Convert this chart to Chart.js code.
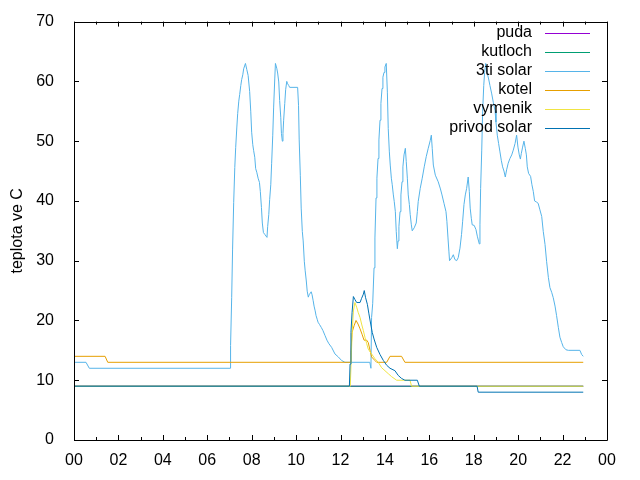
<!DOCTYPE html>
<html>
<head>
<meta charset="utf-8">
<title>teplota</title>
<script src="https://cdn.jsdelivr.net/npm/chart.js@4.4.1/dist/chart.umd.min.js"></script>
<style>
    html, body { margin: 0; padding: 0; background: #fff; }
    canvas { display: block; }
</style>
</head>
<body>
<canvas id="chart" width="640" height="480"></canvas>
<script>
// --- Data (hours of day, degrees C) ---
const seriesNames = ['puda', 'kutloch', '3ti solar', 'kotel', 'vymenik', 'privod solar'];
const seriesColors = ['#9400d3', '#009e73', '#56b4e9', '#e69f00', '#f0e442', '#0072b2'];

const pudaT = [0, 22.93];
const pudaV = [9, 9];

const kutlochT = [0, 22.93];
const kutlochV = [9, 9];

const solarT = [
    0, 0.54, 0.69, 7.04, 7.05, 7.10, 7.14, 7.19, 7.24, 7.28, 7.33, 7.37, 7.42, 7.46, 7.51, 7.55, 7.60, 7.64, 7.72, 7.78,
    7.84, 7.91, 7.96, 8.00, 8.05, 8.09, 8.14, 8.18, 8.23, 8.29, 8.35, 8.39, 8.44, 8.48, 8.53, 8.59, 8.69, 8.72, 8.77, 8.81,
    8.86, 8.90, 8.95, 8.99, 9.04, 9.07, 9.13, 9.17, 9.22, 9.26, 9.31, 9.34, 9.38, 9.41, 9.44, 9.49, 9.53, 9.58, 9.62, 9.67,
    9.71, 10.07, 10.11, 10.14, 10.19, 10.23, 10.28, 10.32, 10.37, 10.41, 10.46, 10.50, 10.55, 10.59, 10.68, 10.72, 10.77, 10.81, 10.86, 10.90,
    10.95, 10.99, 11.06, 11.14, 11.21, 11.30, 11.39, 11.48, 11.60, 11.75, 11.90, 12.05, 12.20, 13.32, 13.37, 13.40, 13.45, 13.51, 13.55, 13.60,
    13.64, 13.69, 13.73, 13.78, 13.82, 13.87, 13.91, 13.96, 14.00, 14.06, 14.11, 14.15, 14.20, 14.24, 14.29, 14.33, 14.38, 14.42, 14.47, 14.51,
    14.56, 14.59, 14.63, 14.68, 14.72, 14.77, 14.81, 14.86, 14.92, 14.96, 15.01, 15.05, 15.10, 15.14, 15.19, 15.23, 15.32, 15.41, 15.46, 15.50,
    15.59, 15.68, 15.77, 15.86, 15.95, 16.04, 16.09, 16.13, 16.18, 16.27, 16.40, 16.50, 16.57, 16.66, 16.75, 16.79, 16.84, 16.88, 16.91, 17.01,
    17.08, 17.15, 17.23, 17.30, 17.38, 17.45, 17.50, 17.56, 17.62, 17.68, 17.75, 17.80, 17.84, 17.89, 17.93, 18.02, 18.10, 18.16, 18.25, 18.28,
    18.31, 18.36, 18.40, 18.45, 18.49, 18.54, 18.60, 18.67, 18.73, 18.81, 18.88, 18.96, 19.00, 19.06, 19.12, 19.18, 19.24, 19.30, 19.36, 19.42,
    19.48, 19.55, 19.63, 19.71, 19.78, 19.86, 19.93, 19.99, 20.05, 20.10, 20.14, 20.20, 20.26, 20.32, 20.37, 20.41, 20.47, 20.56, 20.62, 20.68,
    20.74, 20.83, 20.90, 20.98, 21.06, 21.13, 21.21, 21.28, 21.36, 21.43, 21.51, 21.58, 21.66, 21.73, 21.81, 21.88, 21.96, 22.03, 22.15, 22.26,
    22.78, 22.86, 22.93
];
const solarV = [
    13, 13, 12, 12, 15.8, 23.8, 31.8, 39.7, 45.6, 48.9, 52.2, 54.6, 56.7, 57.8, 59.3, 60.3, 61.1, 62.1, 63, 62,
    61, 58.3, 54.9, 51.5, 49.4, 48.4, 47.3, 45.4, 44.8, 43.8, 43.1, 41.6, 38.9, 36.3, 34.7, 34.4, 33.9, 35.7, 37.7, 40.2,
    42.7, 46.3, 51, 55.7, 60.4, 63, 62.2, 61.4, 59.9, 56.8, 54, 51.3, 50, 51.3, 53.5, 56.3, 58.6, 60, 59.6, 59.3,
    59, 59, 56, 50.2, 44.3, 38.8, 34.9, 33.3, 29.9, 28.3, 26.6, 24.9, 23.9, 24.3, 24.8, 24.3, 23.3, 22.4, 21.6, 20.8,
    20.2, 19.7, 19.3, 18.8, 18.3, 17.5, 16.7, 16.1, 15.5, 14.4, 13.9, 13.3, 13, 13, 12, 20.5, 22.8, 28.8, 33.8, 40.5,
    43.8, 47.1, 50.2, 53.5, 56.3, 58.8, 60.7, 61.5, 62.4, 63, 58.2, 52.1, 48.2, 46, 43.8, 42.7, 41, 39.9, 38.2, 34.9,
    32, 33.3, 35.7, 38.2, 41, 43.2, 45.7, 47.7, 48.8, 46.6, 43.8, 41, 39.4, 37.7, 36, 35, 35.5, 36.3, 38.2, 39.9,
    42.1, 43.8, 45.7, 47.4, 48.8, 50.1, 51, 48.8, 46, 44.3, 43.2, 42, 41, 39.6, 38.2, 36.6, 33.8, 31.6, 30, 30.5,
    31, 30.2, 30, 30.5, 32.1, 34.4, 36.6, 39.4, 41, 42.1, 44, 41.6, 38.8, 37.1, 36, 35.9, 35.2, 34.1, 32.8, 36,
    42.1, 48.5, 54.9, 59.3, 61.5, 63, 61.5, 60.4, 59.3, 57.9, 56.5, 55.1, 53.2, 51, 49.6, 48.2, 46.8, 45.7, 45, 44,
    45.2, 46.3, 47.1, 47.7, 48.5, 49.6, 51, 49, 47.7, 47, 47.9, 49, 50, 48.8, 47.7, 45.7, 44.6, 44.1, 42.7, 41.6,
    40, 39.8, 39.6, 38.5, 37.4, 34.9, 32.7, 29.9, 27.2, 25.5, 24.7, 23.8, 22.4, 20.8, 18.8, 17.2, 16.3, 15.6, 15.1, 15,
    15, 14.3, 14
];

const kotelT = [0, 1.40, 1.52, 12.43, 12.47, 12.52, 12.61, 12.70, 12.79, 12.88, 12.97, 13.06, 13.18, 13.25, 13.33, 13.40, 13.55, 13.63, 14.08, 14.23, 14.75, 14.90, 22.93];
const kotelV = [14, 14, 13, 13, 14.7, 18, 19.1, 20, 19.4, 18.6, 17.7, 16.7, 16.7, 16.3, 15, 13.9, 13.3, 13, 13, 14, 14, 13, 13];

const vymenikT = [0, 12.44, 12.52, 12.58, 12.65, 12.73, 12.80, 12.88, 12.95, 13.03, 13.10, 13.18, 13.25, 13.40, 13.55, 13.70, 13.85, 14.00, 14.15, 14.30, 14.53, 15.13, 15.20, 22.93];
const vymenikV = [9, 9, 17.7, 21.6, 23, 22.2, 21.3, 20.5, 19.4, 18.3, 17.2, 16.1, 15.2, 14.4, 13.6, 13, 12.1, 11.6, 11.1, 10.6, 10, 10, 9, 9];

const privodT = [0, 12.40, 12.43, 12.47, 12.52, 12.58, 12.65, 12.73, 12.88, 12.95, 13.03, 13.07, 13.13, 13.21, 13.28, 13.36, 13.43, 13.51, 13.63, 13.78, 13.93, 14.08, 14.23, 14.45, 14.60, 14.75, 14.90, 15.46, 15.55, 18.15, 18.20, 22.93];
const privodV = [9, 9, 12.7, 18, 21.3, 24, 23.5, 23, 23, 23.7, 24.4, 25, 23.8, 22.7, 21.1, 19.4, 18, 16.9, 15.5, 14.3, 13.3, 12.5, 12, 11.6, 10.8, 10.3, 10, 10, 9, 9, 8, 8];

const xTicks = ['00', '02', '04', '06', '08', '10', '12', '14', '16', '18', '20', '22', '00'];
const yLabel = 'teplota ve C';

const FONT = '"Liberation Sans", Arial, sans-serif';

function toPoints(times, values) {
    return times.map((t, i) => ({ x: t, y: values[i] }));
}

const seriesData = [
    toPoints(pudaT, pudaV),
    toPoints(kutlochT, kutlochV),
    toPoints(solarT, solarV),
    toPoints(kotelT, kotelV),
    toPoints(vymenikT, vymenikV),
    toPoints(privodT, privodV)
];

// --- gnuplot-like frame, inward ticks, y title and key ---
const framePlugin = {
    id: 'frame',
    afterDraw(chart) {
        const ctx = chart.ctx;
        const a = chart.chartArea;
        const xs = chart.scales.x;
        const ys = chart.scales.y;
        ctx.save();
        ctx.strokeStyle = '#000';
        ctx.lineWidth = 1;
        ctx.beginPath();
        ctx.rect(Math.round(a.left) + 0.5, Math.round(a.top) + 0.5, Math.round(a.right - a.left), Math.round(a.bottom - a.top));
        // x ticks, major every 2 h, minor every hour
        for (let h = 0; h <= 24; h++) {
            const px = Math.round(xs.getPixelForValue(h)) + 0.5;
            const len = h % 2 === 0 ? 5 : 3;
            ctx.moveTo(px, a.bottom);
            ctx.lineTo(px, a.bottom - len);
            ctx.moveTo(px, a.top);
            ctx.lineTo(px, a.top + len);
        }
        for (let v = 0; v <= 70; v += 10) {
            const py = Math.round(ys.getPixelForValue(v)) + 0.5;
            ctx.moveTo(a.left, py);
            ctx.lineTo(a.left + 5, py);
            ctx.moveTo(a.right, py);
            ctx.lineTo(a.right - 5, py);
        }
        ctx.stroke();

        // x tick labels
        ctx.fillStyle = '#000';
        ctx.font = '16px ' + FONT;
        ctx.textAlign = 'center';
        ctx.textBaseline = 'middle';
        xTicks.forEach((label, i) => {
            ctx.fillText(label, xs.getPixelForValue(i * 2), 461);
        });

        // y axis title
        ctx.translate(18, (a.top + a.bottom) / 2);
        ctx.rotate(-Math.PI / 2);
        ctx.fillText(yLabel, 0, 0);
        ctx.setTransform(1, 0, 0, 1, 0, 0);

        // key, top right
        ctx.textAlign = 'right';
        seriesNames.forEach((name, i) => {
            const y = 33 + i * 18.9;
            ctx.fillStyle = '#000';
            ctx.fillText(name, 532, y);
            ctx.strokeStyle = seriesColors[i];
            ctx.beginPath();
            ctx.moveTo(545, Math.round(y) + 0.5);
            ctx.lineTo(590, Math.round(y) + 0.5);
            ctx.stroke();
        });
        ctx.restore();
    }
};

document.addEventListener('DOMContentLoaded', () => {
    const ctx = document.getElementById('chart').getContext('2d');

    const datasets = seriesNames.map((name, i) => ({
        label: name,
        data: seriesData[i],
        borderColor: seriesColors[i],
        backgroundColor: seriesColors[i],
        borderWidth: 1,
        pointRadius: 0,
        tension: 0,
        fill: false,
        // later series drawn on top, like gnuplot
        order: seriesNames.length - i
    }));

    new Chart(ctx, {
        type: 'line',
        data: { datasets: datasets },
        options: {
            responsive: false,
            animation: false,
            events: [],
            layout: { padding: { top: 19, right: 33, left: 0, bottom: 0 } },
            plugins: {
                legend: { display: false },
                tooltip: { enabled: false }
            },
            scales: {
                x: {
                    type: 'linear',
                    min: 0,
                    max: 24,
                    afterFit: (scale) => { scale.height = 40; },
                    grid: { display: false },
                    border: { display: false },
                    ticks: {
                        stepSize: 2,
                        autoSkip: false,
                        maxRotation: 0,
                        // labels are drawn by the frame plugin
                        display: false
                    }
                },
                y: {
                    min: 0,
                    max: 70,
                    afterFit: (scale) => { scale.width = 74; },
                    grid: { display: false },
                    border: { display: false },
                    ticks: {
                        stepSize: 10,
                        padding: 12,
                        color: '#000',
                        font: { family: FONT, size: 16 }
                    }
                }
            }
        },
        plugins: [framePlugin]
    });
});
</script>
</body>
</html>
